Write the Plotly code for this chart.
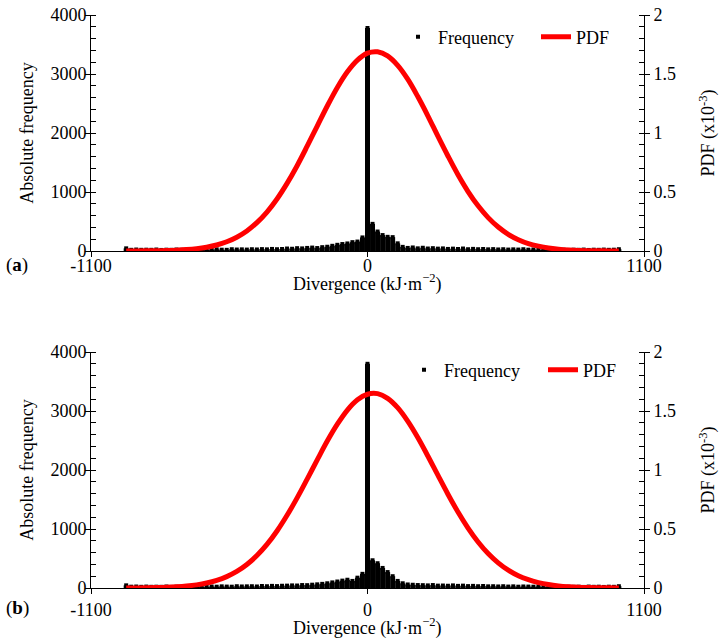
import plotly.graph_objects as go

# ---------------- data ----------------
freq_x = [-960, -940, -920, -900, -880, -860, -840, -820, -800, -780,
          -760, -740, -720, -700, -680, -660, -640, -620, -600, -580,
          -560, -540, -520, -500, -480, -460, -440, -420, -400, -380,
          -360, -340, -320, -300, -280, -260, -240, -220, -200, -180,
          -160, -140, -120, -100, -80, -60, -40, -20, 0, 20,
          40, 60, 80, 100, 120, 140, 160, 180, 200, 220,
          240, 260, 280, 300, 320, 340, 360, 380, 400, 420,
          440, 460, 480, 500, 520, 540, 560, 580, 600, 620,
          640, 660, 680, 700, 720, 740, 760, 780, 800, 820,
          840, 860, 880, 900, 920, 940, 960, 980, 1000]

freq_a = [45, 20, 25, 20, 22, 20, 25, 18, 22, 20,
          25, 20, 22, 18, 25, 22, 20, 25, 28, 22,
          20, 30, 25, 28, 24, 30, 26, 32, 28, 35,
          30, 34, 42, 38, 48, 44, 52, 58, 50, 65,
          72, 88, 105, 118, 128, 150, 160, 230, 3780, 460,
          330, 270, 240, 235, 130, 70, 52, 60, 45, 55,
          42, 48, 40, 44, 35, 40, 34, 42, 30, 36,
          30, 34, 28, 32, 26, 30, 24, 28, 24, 30,
          22, 26, 22, 25, 20, 24, 20, 22, 18, 22,
          20, 24, 18, 22, 20, 24, 20, 22, 30]

freq_b = [45, 22, 25, 20, 24, 20, 22, 20, 25, 18,
          22, 20, 25, 20, 22, 24, 20, 25, 22, 28,
          24, 22, 30, 26, 28, 30, 26, 34, 30, 36,
          32, 38, 40, 44, 42, 50, 48, 56, 62, 70,
          80, 95, 110, 125, 140, 120, 175, 240, 3800, 470,
          420, 340, 270, 200, 120, 80, 60, 55, 50, 48,
          44, 50, 40, 42, 38, 44, 36, 40, 32, 36,
          30, 34, 28, 30, 26, 30, 24, 28, 22, 26,
          24, 22, 26, 20, 24, 20, 22, 18, 22, 20,
          22, 18, 24, 20, 22, 18, 22, 20, 30]

pdf_x = [-960, -920, -880, -840, -800, -760, -720, -680, -640, -600,
         -560, -520, -480, -440, -400, -360, -320, -280, -240, -200,
         -160, -120, -80, -40, 0, 40, 80, 120, 160, 200,
         240, 280, 320, 360, 400, 440, 480, 520, 560, 600,
         640, 680, 720, 760, 800, 840, 880, 920, 960, 1000]

pdf_a = [0.0003, 0.0006, 0.0011, 0.0021, 0.0039, 0.0069, 0.0118, 0.0197, 0.0322, 0.0509,
         0.0782, 0.117, 0.170, 0.240, 0.330, 0.441, 0.573, 0.723, 0.888, 1.059,
         1.229, 1.386, 1.519, 1.618, 1.677, 1.688, 1.653, 1.573, 1.456, 1.309,
         1.146, 0.973, 0.805, 0.646, 0.504, 0.383, 0.283, 0.203, 0.141, 0.096,
         0.063, 0.041, 0.025, 0.0153, 0.0090, 0.0052, 0.0029, 0.0016, 0.0008, 0.0004]

pdf_b = [0.0005, 0.0010, 0.0018, 0.0033, 0.0058, 0.0099, 0.0164, 0.0266, 0.0419, 0.0644,
         0.0963, 0.140, 0.199, 0.275, 0.369, 0.483, 0.616, 0.764, 0.923, 1.086,
         1.245, 1.388, 1.508, 1.595, 1.642, 1.647, 1.607, 1.528, 1.414, 1.275,
         1.119, 0.956, 0.795, 0.644, 0.508, 0.390, 0.292, 0.213, 0.151, 0.104,
         0.070, 0.046, 0.029, 0.018, 0.011, 0.0064, 0.0037, 0.0021, 0.0011, 0.0006]

x_ticks = [-1100, 0, 1100]
freq_ticks = [0, 1000, 2000, 3000, 4000]
freq_minor_step = 200
pdf_ticks = [0, 0.5, 1, 1.5, 2]
pdf_ticktext = ["0", "0.5", "1", "1.5", "2"]
pdf_minor_step = 0.1
panel_labels = ["a", "b"]
x_title = "Divergence (kJ·m<sup>−2</sup>)"

# ---------------- figure ----------------
FONT = "Liberation Serif"
W, H = 720, 639

fig = go.Figure()

panels = [
    dict(freq=freq_a, pdf=pdf_a, xa="x", ya="y", ya2="y2", leg="legend"),
    dict(freq=freq_b, pdf=pdf_b, xa="x2", ya="y3", ya2="y4", leg="legend2"),
]

for p in panels:
    fig.add_trace(go.Scatter(
        x=freq_x, y=p["freq"], mode="markers", name="Frequency",
        marker=dict(symbol="square", size=4, color="black"),
        error_y=dict(type="data", symmetric=False, array=[0] * len(freq_x),
                     arrayminus=p["freq"], thickness=5, width=0, color="black"),
        xaxis=p["xa"], yaxis=p["ya"], legend=p["leg"]))
    fig.add_trace(go.Scatter(
        x=pdf_x, y=p["pdf"], mode="lines", name="PDF",
        line=dict(color="#ff0000", width=5, shape="spline"),
        xaxis=p["xa"], yaxis=p["ya2"], legend=p["leg"]))


def py(y):
    return 1 - y / H


def px(x):
    return x / W


xdom = [px(91), px(644)]
dom_a = [py(251), py(15)]
dom_b = [py(588), py(352)]

common_axis = dict(showline=True, linecolor="black", linewidth=1, showgrid=False,
                   zeroline=False, ticks="outside", ticklen=5, tickcolor="black",
                   ticklabeloverflow="allow",
                   tickfont=dict(family=FONT, size=18, color="black"), automargin=False)


def xaxis(anchor, lab_off):
    return dict(common_axis, domain=xdom, anchor=anchor, range=[-1100, 1100],
                tickvals=x_ticks, ticktext=[str(v) for v in x_ticks],
                ticklabelstandoff=lab_off)


def yleft(dom, anchor):
    return dict(common_axis, domain=dom, anchor=anchor,
                range=[freq_ticks[0], freq_ticks[-1]],
                tickmode="linear", tick0=freq_ticks[0], dtick=freq_ticks[1] - freq_ticks[0],
                ticklabelstandoff=-5,
                minor=dict(tickmode="linear", tick0=0, dtick=freq_minor_step,
                           ticks="inside", ticklen=5, tickcolor="black"),
                title=dict(text="Absolute frequency", standoff=12,
                           font=dict(family=FONT, size=18, color="black")))


def yright(over, anchor):
    return dict(common_axis, overlaying=over, side="right", anchor=anchor,
                range=[pdf_ticks[0], pdf_ticks[-1]],
                tickmode="array", tickvals=pdf_ticks, ticktext=pdf_ticktext,
                minor=dict(tickmode="linear", tick0=0, dtick=pdf_minor_step,
                           ticks="inside", ticklen=5, tickcolor="black"),
                title=dict(text="PDF (x10<sup>-3</sup>)", standoff=26,
                           font=dict(family=FONT, size=18, color="black")))


def inner_ticks(over, anchor, side, rng, tv):
    # inside half of the crossing major ticks
    return dict(overlaying=over, anchor=anchor, side=side, range=rng,
                tickmode="array", tickvals=tv, ticks="inside", ticklen=5,
                tickcolor="black", showticklabels=False, showline=False,
                showgrid=False, zeroline=False, automargin=False)


legend_common = dict(orientation="h", xanchor="left", yanchor="middle",
                     bgcolor="rgba(0,0,0,0)", font=dict(family=FONT, size=18, color="black"),
                     itemwidth=30)

annos = []
for lab, ylab, ytit in [(panel_labels[0], 265, 283), (panel_labels[1], 608, 627)]:
    annos.append(dict(text="(<b>%s</b>)" % lab, x=px(17), y=py(ylab), xref="paper",
                      yref="paper", xanchor="center", yanchor="middle", showarrow=False,
                      font=dict(family=FONT, size=19, color="black")))
    annos.append(dict(text=x_title, x=px(367.5), y=py(ytit), xref="paper", yref="paper",
                      xanchor="center", yanchor="middle", showarrow=False,
                      font=dict(family=FONT, size=18, color="black")))

frng = [freq_ticks[0], freq_ticks[-1]]
prng = [pdf_ticks[0], pdf_ticks[-1]]

fig.update_layout(
    width=W, height=H,
    margin=dict(l=0, r=0, t=0, b=0),
    paper_bgcolor="white", plot_bgcolor="white",
    font=dict(family=FONT, size=18, color="black"),
    xaxis=xaxis("y", -7), yaxis=yleft(dom_a, "x"), yaxis2=yright("y", "x"),
    xaxis2=xaxis("y3", 0), yaxis3=yleft(dom_b, "x2"), yaxis4=yright("y3", "x2"),
    yaxis5=inner_ticks("y", "x", "left", frng, freq_ticks),
    yaxis6=inner_ticks("y", "x", "right", prng, pdf_ticks),
    yaxis7=inner_ticks("y3", "x2", "left", frng, freq_ticks),
    yaxis8=inner_ticks("y3", "x2", "right", prng, pdf_ticks),
    legend=dict(legend_common, x=px(398), y=py(37), entrywidth=93),
    legend2=dict(legend_common, x=px(404), y=py(370), entrywidth=94),
    annotations=annos,
)

fig.write_html(
    "out.html",
    config={"displayModeBar": False},
    post_script=("document.body.style.margin='0px';"
                 "document.body.style.overflow='hidden';"
                 "document.documentElement.style.overflow='hidden';"),
)
